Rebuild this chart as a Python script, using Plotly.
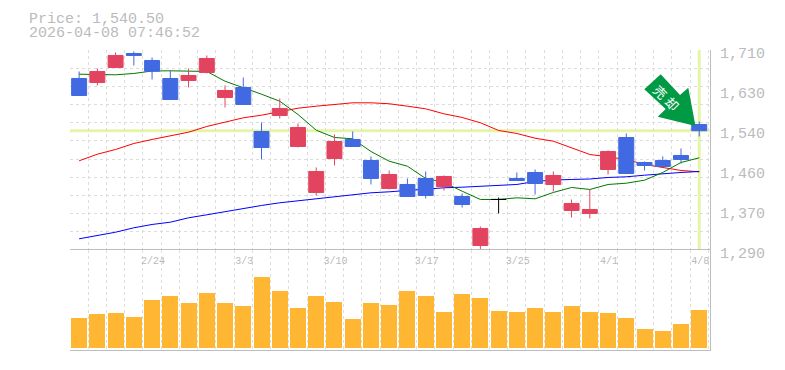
import plotly.graph_objects as go

dates = ["2/17","2/18","2/19","2/20","2/24","2/25","2/26","2/27","3/2","3/3","3/4","3/5","3/6","3/9","3/10","3/11","3/12","3/13","3/16","3/17","3/18","3/19","3/23","3/24","3/25","3/26","3/27","3/30","3/31","4/1","4/2","4/3","4/6","4/7","4/8"]
opens = [1650.2,1641.8,1673.3,1702.7,1688.0,1650.2,1646.0,1662.8,1610.3,1631.3,1538.9,1572.5,1507.4,1410.8,1482.2,1522.1,1478.0,1419.2,1427.6,1440.2,1423.4,1402.4,1299.5,1396.1,1440.2,1452.8,1427.6,1373.0,1366.7,1459.1,1526.3,1473.8,1478.0,1488.5,1553.6]
highs = [1664.9,1671.2,1704.8,1706.9,1694.3,1667.0,1671.2,1698.5,1635.5,1652.3,1557.8,1608.2,1555.7,1463.3,1532.6,1538.9,1486.4,1457.0,1440.2,1454.9,1446.5,1408.7,1339.4,1400.3,1452.8,1459.1,1454.9,1396.1,1417.1,1499.0,1534.7,1475.9,1486.4,1503.2,1559.9]
lows = [1614.5,1635.5,1673.3,1677.5,1648.1,1606.1,1631.3,1660.7,1589.3,1595.6,1480.1,1566.2,1505.3,1404.5,1467.5,1507.4,1427.6,1417.1,1402.4,1398.2,1415.0,1379.3,1291.1,1366.7,1436.0,1406.6,1412.9,1358.3,1356.2,1448.6,1450.7,1457.0,1465.4,1471.7,1528.4]
closes = [1614.5,1664.9,1698.5,1698.5,1665.5,1606.1,1656.5,1692.2,1625.0,1595.6,1505.3,1587.2,1547.3,1454.9,1517.9,1507.4,1440.2,1448.6,1402.4,1404.5,1444.4,1385.6,1335.2,1396.1,1436.0,1429.7,1446.5,1387.7,1375.1,1496.9,1450.7,1467.5,1465.4,1480.1,1540.5]
ma_short = [1659.2,1658.6,1657.9,1660.7,1665.9,1666.3,1666.3,1664.9,1644.5,1631.3,1617.2,1602.5,1574.6,1541.6,1526.3,1523.5,1496.9,1476.5,1466.0,1440.2,1431.8,1413.5,1396.1,1396.1,1399.6,1397.5,1410.8,1421.3,1417.1,1427.6,1430.3,1436.6,1452.8,1473.8,1483.6]
ma_mid = [1477.3,1491.2,1501.1,1513.7,1522.1,1529.0,1537.4,1549.4,1559.2,1567.6,1573.1,1580.9,1587.8,1592.0,1595.6,1599.1,1599.1,1597.1,1592.0,1586.5,1576.0,1568.3,1557.2,1541.0,1534.7,1524.8,1518.5,1504.6,1490.6,1485.7,1480.1,1469.6,1463.3,1457.0,1454.2]
ma_long = [1313.5,1319.8,1327.4,1336.6,1343.6,1348.4,1357.6,1363.9,1370.9,1377.2,1383.5,1389.1,1393.3,1397.5,1402.4,1406.6,1410.1,1412.2,1415.0,1418.5,1420.6,1421.9,1423.4,1424.8,1427.6,1433.9,1437.0,1438.1,1439.1,1442.3,1443.7,1447.1,1450.7,1452.8,1454.9]
volumes = [30000,34000,35000,31000,48000,52000,45000,55000,45000,42000,71000,57000,40000,52000,46000,29000,45000,43000,57000,52000,36000,54000,50000,37000,36000,40000,36000,42000,36000,35000,30000,19000,17000,24000,38000]
price_ticks = [1710,1626,1542,1458,1374,1290]
price_labels = ["1,710","1,630","1,540","1,460","1,370","1,290"]
date_tick_idx = [4,9,14,19,24,29,34]
current_price = 1540.5
title_lines = ["Price: 1,540.50","2026-04-08 07:46:52"]
signal_glyphs = ["売","却"]

BLUE, RED, AMBER = "#4169E1", "#E24460", "#FFB733"
GRID, SPINE, TXT, BAND = "#dddddd", "#bdbdbd", "#bbbbbd", "#E5F5A8"
MONO = "Liberation Mono"
n = len(dates)
xs = list(range(n))
Y_RANGE = [price_ticks[-1], price_ticks[0]]
X_RANGE = [-0.5, n - 0.41]

body_o = [o if o != c else None for o, c in zip(opens, closes)]
doji_o = [o if o == c else None for o, c in zip(opens, closes)]

fig = go.Figure()
fig.add_trace(go.Bar(x=xs, y=volumes, xaxis="x2", yaxis="y2", width=0.877,
                     marker=dict(color=AMBER, line=dict(width=0))))
for vals, col, w in [(ma_mid, "#FF0000", 1), (ma_long, "#0000FF", 1), (ma_short, "#007A00", 1)]:
    fig.add_trace(go.Scatter(x=xs, y=vals, mode="lines", xaxis="x", yaxis="y",
                             line=dict(color=col, width=w)))
fig.add_trace(go.Candlestick(x=xs, open=body_o, high=highs, low=lows, close=closes,
                             xaxis="x", yaxis="y3", whiskerwidth=0,
                             increasing=dict(line=dict(color=RED, width=1), fillcolor=RED),
                             decreasing=dict(line=dict(color=BLUE, width=1), fillcolor=BLUE)))
fig.add_trace(go.Candlestick(x=xs, open=doji_o, high=highs, low=lows, close=closes,
                             xaxis="x", yaxis="y3", whiskerwidth=0,
                             increasing=dict(line=dict(color="#000000", width=1), fillcolor="#000000"),
                             decreasing=dict(line=dict(color="#000000", width=1), fillcolor="#000000")))

W, H = 785, 370
def ydom(top, bottom):
    return [1 - bottom / H, 1 - top / H]
xdom = [70 / W, 710 / W]
minor_x = dict(showgrid=True, gridcolor=GRID, griddash="3px,3px", gridwidth=1, tick0=-0.5, dtick=1, ticks="")

fig.update_layout(
    width=W, height=H, margin=dict(l=0, r=0, t=0, b=0, autoexpand=False),
    paper_bgcolor="white", plot_bgcolor="white", showlegend=False, boxgap=0.18, boxgroupgap=0, bargap=0,
    xaxis=dict(domain=xdom, range=X_RANGE, anchor="y", showgrid=False, showticklabels=False, ticks="",
               zeroline=False, minor=minor_x, rangeslider=dict(visible=False), showline=False),
    yaxis=dict(domain=ydom(50, 250), range=Y_RANGE, side="right", anchor="x", tickvals=price_ticks,
               ticktext=price_labels, tickfont=dict(family=MONO, size=15, color=TXT), ticks="",
               showgrid=False, zeroline=False, showline=True, linecolor=SPINE, linewidth=1,
               ticklabelstandoff=6, ticklabelshift=3,
               minor=dict(showgrid=True, gridcolor=GRID, griddash="3px,3px", gridwidth=1,
                          tick0=price_ticks[-1], dtick=(price_ticks[0] - price_ticks[-1]) / 11, ticks="")),
    yaxis3=dict(domain=ydom(50, 250), range=Y_RANGE, overlaying="y", side="right", anchor="x", visible=False),
    xaxis2=dict(domain=xdom, range=X_RANGE, anchor="y2", side="top", mirror=True, showline=True,
                linecolor=SPINE, linewidth=1, showgrid=False, zeroline=False, ticks="",
                tickvals=date_tick_idx, ticktext=[dates[i] for i in date_tick_idx],
                ticklabelposition="inside", tickangle=0, ticklabelstandoff=6, ticklabelshift=1,
                tickfont=dict(family=MONO, size=10, color=TXT), minor=minor_x),
    yaxis2=dict(domain=ydom(250, 350), range=[-2000, 98000], side="right", anchor="x2", showgrid=False,
                zeroline=False, showticklabels=False, ticks="", showline=True, linecolor=SPINE, linewidth=1),
    shapes=[
        dict(type="line", layer="below", xref="x", yref="y", x0=X_RANGE[0], x1=X_RANGE[1],
             y0=current_price, y1=current_price, line=dict(color=BAND, width=3)),
        dict(type="line", layer="below", xref="x", yref="y", x0=n - 1, x1=n - 1,
             y0=Y_RANGE[0], y1=Y_RANGE[1], line=dict(color=BAND, width=3)),
        dict(type="path", layer="above", xref="paper", yref="paper", fillcolor="#009944", line=dict(width=0),
             path="M %f %f L %f %f L %f %f L %f %f L %f %f L %f %f L %f %f Z" % tuple(
                 v for px, py in [(644.3, 89.3), (660.7, 74.3), (680, 95), (688.3, 87.7),
                                  (695.5, 126), (657.7, 116.7), (665.7, 109)]
                 for v in (px / W, 1 - py / H))),
    ],
    annotations=[
        dict(xref="paper", yref="paper", x=27 / W, y=1 - 19 / H, xanchor="left", yanchor="middle", showarrow=False,
             text=title_lines[0], font=dict(family=MONO, size=15, color=TXT)),
        dict(xref="paper", yref="paper", x=27 / W, y=1 - 34 / H, xanchor="left", yanchor="middle", showarrow=False,
             text=title_lines[1], font=dict(family=MONO, size=15, color=TXT)),
        dict(xref="paper", yref="paper", x=660 / W, y=1 - 91.7 / H, xanchor="center", yanchor="middle", showarrow=False,
             text=signal_glyphs[0], textangle=45, font=dict(family="Noto Sans CJK JP", size=13, color="white")),
        dict(xref="paper", yref="paper", x=672.3 / W, y=1 - 103.3 / H, xanchor="center", yanchor="middle", showarrow=False,
             text=signal_glyphs[1], textangle=45, font=dict(family="Noto Sans CJK JP", size=13, color="white")),
    ],
)
fig.write_html("out.html", config=dict(displayModeBar=False),
               post_script="document.body.style.margin='0';document.body.style.overflow='hidden';")
